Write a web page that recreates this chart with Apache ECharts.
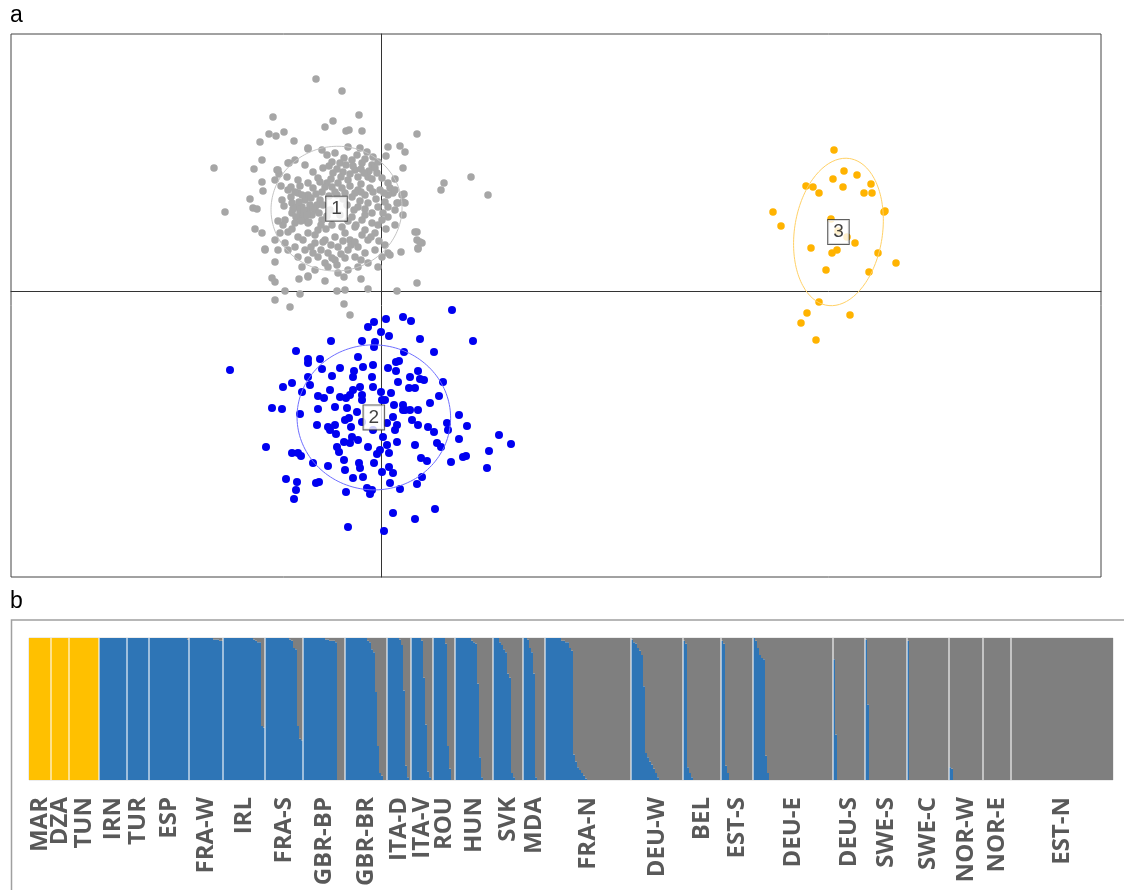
<!DOCTYPE html>
<html>
<head>
<meta charset="utf-8">
<script src="https://cdn.jsdelivr.net/npm/echarts@6/dist/echarts.min.js"></script>
<style>
  html, body { margin: 0; padding: 0; background: #ffffff; }
  #chart { width: 1124px; height: 890px; }
</style>
</head>
<body>
<div id="chart"></div>
<script>
// ---------- Panel a: discriminant scores (LD1, LD2) per cluster ----------
const cluster1 = [
  [-6.5,21.2],[-3.9,20.0],[-10.8,17.4],[-2.2,17.6],[-4.8,17.0],[-5.6,16.4],[-3.5,16.0],[-3.2,16.1],[-1.9,16.0],[-11.2,15.7],
  [-10.5,15.5],[-9.7,15.9],[-8.7,15.0],[-12.1,14.9],[3.6,15.7],[0.7,14.4],[1.9,14.5],[2.4,13.9],[0.5,13.5],[-11.9,13.1],
  [-16.7,12.3],[-12.7,12.2],[-10.4,12.1],[-10.2,11.7],[-9.2,12.8],[-7.3,14.2],[2.2,12.3],[9.0,11.4],[6.3,10.8],[6.0,10.1],
  [10.7,9.6],[-15.6,7.9],[-12.6,6.2],[-11.6,4.2],[-10.6,2.9],[-10.9,1.3],[-10.6,0.9],[-9.6,0.0],[-8.2,1.2],[-7.3,1.5],
  [-8.1,-0.3],[-10.6,-0.9],[-9.1,-1.6],[-5.6,1.0],[-4.4,0.0],[-3.6,0.1],[-3.7,-1.3],[-3.1,-2.4],[-3.7,1.4],[-2.0,1.2],
  [-1.3,0.2],[1.6,0.0],[3.6,0.8],[3.6,5.9],[3.6,5.1],[4.1,4.8],[3.7,4.2],[2.0,3.9],[2.3,9.7],[2.4,8.8],
  [1.6,8.8],[1.4,11.2],[0.9,10.3],[1.2,9.8],
  [-7.3,14.3],[-5.9,14.1],[-5.4,13.6],[-4.6,13.8],[-3.3,14.4],[-2.1,14.3],[-1.4,13.9],[-0.8,13.4],[-4.9,12.9],[-4.1,12.8],
  [-2.9,13.1],[-1.9,12.8],[-0.9,12.6],[-0.3,12.9],[-2.6,12.1],[-3.8,11.9],[-4.8,11.8],[-5.8,12.3],[-6.8,11.9],[-7.6,12.6],
  [-8.6,13.1],[-9.3,12.8],[-10.3,12.1],[-10.6,11.1],[-9.4,11.4],[-8.3,11.1],[-7.3,10.8],[-6.3,11.3],[-5.4,10.8],[-4.3,10.8],
  [-3.3,11.1],[-2.3,11.4],[-1.3,11.4],[-0.4,11.8],[0.1,11.3],[0.7,10.8],[1.4,10.1],[2.1,9.6],[0.7,9.6],[-0.1,10.1],
  [-1.1,10.3],[-2.3,10.1],[-2.9,9.4],[-3.6,9.8],[-4.6,9.9],[-5.9,9.9],[-7.3,9.6],[-8.3,9.8],[-9.3,10.1],[-9.9,9.1],
  [-8.9,8.8],[-7.9,8.4],[-7.3,8.1],[-7.9,7.4],[-8.9,7.8],[-9.6,7.1],[-8.6,6.8],[-7.3,6.8],[-5.9,7.1],[-6.3,6.1],
  [-7.3,5.8],[-8.3,5.4],[-9.3,5.9],[-10.1,5.8],[-10.6,5.1],[-9.6,4.8],[-8.6,4.4],[-7.6,4.1],[-6.6,4.8],[-5.6,5.1],
  [-4.6,5.4],[-3.6,5.8],[-3.1,5.1],[-2.6,6.4],[-2.9,7.4],[-1.9,7.1],[-0.9,6.8],[0.1,7.1],[0.7,7.4],[1.4,8.1],
  [0.7,8.4],[-0.3,8.4],[-1.3,8.8],[-2.3,8.4],[-1.6,6.1],[-0.6,5.8],[-1.3,5.1],[-2.3,4.4],[-3.3,4.1],[-4.3,4.4],
  [-5.3,3.8],[-6.3,3.4],[-7.3,3.1],[-8.3,3.4],[-5.6,2.8],[-4.6,3.1],[-3.6,3.3],[-2.6,3.4],[-1.6,3.8],[-0.6,4.1],
  [0.1,3.4],[0.7,3.8],[-0.3,2.4],[-1.3,2.8],[-2.3,2.4],[-3.3,2.1],[-4.3,1.8],[-5.3,2.4],[-6.6,2.1],[-7.3,1.4],
  [-7.9,2.4],[-9.3,4.1],[-10.3,4.1],[0.9,3.6],[1.4,6.6],[1.7,8.8],[2.2,8.9],[2.2,7.6],[3.4,5.9],[3.7,4.3],
  [3.9,4.9],[-11.6,4.1],[-11.9,5.8],[-13.1,9.2],[-12.8,8.3],[-12.4,8.2],[-11.9,10.9],[-11.8,10.0],[-7.1,8.6],[-6.6,8.1],
  [-8.1,7.9],[-7.6,9.1],[-6.1,9.1],[-6.9,7.6],[-8.4,8.4],[-6.4,8.6],[-7.6,7.1],[-5.1,8.1],[-4.1,7.6],[-3.4,8.6],
  [-8.8,8.2],[-8.2,8.9],[-7.7,8.0],[-7.0,9.3],[-6.8,8.3],[-7.4,7.6],[-8.5,7.4],[-6.2,7.8],[-9.0,9.4],[-7.9,9.6],
  [-6.5,9.7],[-8.0,7.0],[-7.2,6.9],[-5.2,12.5],[-4.4,12.2],[-3.5,12.6],[-2.8,12.5],[-2.0,12.2],[-1.2,12.0],[-0.6,12.3],
  [-3.1,11.7],[-4.0,11.4],[-5.0,11.2],[-1.7,11.8],[-0.9,11.2],[-3.7,13.3],[-2.4,13.6],[-1.6,13.2],[-0.8,9.9],[0.3,9.8],
  [-0.5,9.2],[0.4,8.9],[-1.6,9.6],[-0.9,7.8],[0.2,7.8],[-0.3,6.6],[0.5,6.2],[-1.0,5.4],[-0.2,5.0],[0.4,4.6],
  [-1.9,5.6],[-2.0,9.9],[-1.6,8.2],[-7.0,4.4],[-6.0,4.1],[-5.0,4.6],[-4.0,3.7],[-3.0,4.6],[-2.0,3.1],[-4.9,3.3],
  [-6.8,3.8],[-5.8,4.9],[-3.8,5.0],[-2.6,4.9],[-4.4,2.6],[-5.6,10.4],[-4.9,10.4],[-3.9,10.3],[-3.1,10.5],[-2.6,9.8],
  [-2.1,9.0],[-2.7,8.1],[-3.3,7.0],[-3.9,6.4],[-4.9,6.6],[-5.5,6.2],[-6.6,5.6],[-7.8,5.1],[-8.9,6.2],[-9.8,6.6],
  [-9.0,10.4],[-8.1,10.5],[-6.8,10.3],[-6.1,10.9],[-5.8,8.6],[-5.4,7.5],[-6.0,6.6],[-3.8,9.2],[-2.5,6.6],[-1.6,7.6],
  [-8.6,9.9],[-9.7,8.5],[-10.3,7.0],[-10.0,10.5],[-4.4,9.6],[-5.2,9.5],[-2.0,10.7]
];

const cluster2 = [
  [7.1,-1.9],[9.2,-5.0],[2.2,-2.6],[3.0,-3.0],[0.5,-2.8],[-0.7,-3.1],[-1.3,-3.6],[0.0,-4.1],[0.8,-4.5],[3.9,-4.8],
  [5.3,-6.1],[-5.0,-5.0],[-1.9,-5.0],[-0.6,-5.1],[-0.7,-5.6],[-8.5,-6.0],[2.3,-6.1],[-7.3,-6.8],[-7.3,-7.2],[-6.1,-6.8],
  [-15.1,-7.9],[-2.3,-6.6],[-0.8,-7.4],[-4.1,-7.7],[-2.7,-8.0],[-1.8,-7.6],[0.7,-7.7],[1.5,-7.1],[1.8,-7.0],[3.7,-8.0],
  [2.9,-8.6],[3.9,-8.8],[4.3,-8.9],[6.2,-9.1],[1.5,-8.0],[-9.8,-9.6],[-8.9,-9.2],[-7.3,-8.6],[-7.1,-9.4],[-5.9,-7.8],
  [-4.9,-8.5],[-2.8,-8.6],[-2.1,-9.6],[-0.9,-8.6],[-0.8,-9.6],[1.7,-9.1],[2.8,-9.7],[3.4,-9.7],[5.8,-10.5],[4.9,-11.2],
  [-7.9,-10.1],[-6.3,-10.5],[-5.7,-10.7],[-5.1,-9.9],[-4.1,-10.6],[-3.5,-10.7],[-2.8,-9.9],[-1.9,-10.4],[0.0,-10.1],[1.0,-10.2],
  [0.1,-10.9],[-10.9,-11.7],[-9.9,-11.8],[-8.1,-12.3],[-6.3,-11.8],[-4.6,-11.6],[-3.4,-11.7],[-2.4,-12.1],[1.3,-11.4],[2.2,-11.4],
  [1.2,-12.6],[2.2,-11.9],[2.9,-11.9],[3.7,-11.9],[3.1,-12.9],[3.7,-13.4],[4.7,-13.6],[5.3,-14.1],[6.6,-13.2],[6.7,-13.9],
  [7.8,-12.4],[8.6,-13.5],[7.8,-14.8],[-6.4,-13.4],[-5.3,-13.6],[-4.6,-13.4],[-4.5,-14.3],[-3.2,-12.7],[-3.0,-13.6],[-2.9,-14.6],
  [-3.1,-15.2],[-1.9,-13.1],[-0.8,-13.9],[0.6,-13.2],[1.6,-13.4],[0.2,-14.6],[0.6,-15.4],[1.6,-15.1],[-4.4,-15.6],[-4.2,-16.1],
  [-3.7,-15.1],[-1.3,-15.6],[-0.4,-16.3],[0.8,-16.2],[5.6,-15.2],[6.0,-15.6],[-11.5,-15.6],[-8.9,-16.2],[-8.3,-16.2],[-8.0,-16.5],
  [-6.8,-17.2],[-5.3,-17.5],[-3.7,-16.9],[-3.6,-17.9],[-2.2,-17.2],[-2.1,-17.7],[-0.7,-17.2],[0.1,-18.1],[0.8,-17.6],[1.2,-18.2],
  [4.0,-16.7],[4.6,-17.0],[7.0,-17.1],[8.2,-16.6],[8.5,-16.5],[10.8,-16.0],[11.8,-14.4],[13.0,-15.3],[10.6,-17.7],[-9.5,-18.8],
  [-8.4,-19.1],[-8.5,-19.9],[-8.7,-20.8],[-6.5,-19.2],[-6.2,-19.1],[-2.8,-18.7],[-1.8,-18.6],[-1.4,-19.7],[-0.9,-19.9],[-1.1,-20.3],
  [-3.5,-20.1],[0.9,-19.2],[1.9,-19.8],[3.6,-19.3],[4.1,-18.6],[1.2,-22.2],[3.4,-22.8],[5.4,-21.8],[-3.3,-23.6],[0.3,-24.0],
  [-3.1,-10.4],[-1.9,-10.9],[-3.6,-12.9],[-2.3,-14.9],[0.4,-10.9],[1.4,-13.9],[2.4,-11.9],[-0.1,-15.9],[-5.1,-13.9],[3.4,-15.4]
];

const cluster3 = [
  [45.3,14.1],[46.3,12.0],[47.6,11.6],[45.2,11.2],[42.5,10.5],[43.2,10.4],[43.8,9.8],[46.2,10.4],[48.3,9.8],[49.0,10.7],
  [49.1,9.8],[50.3,7.9],[50.4,8.0],[39.2,7.9],[40.0,6.5],[45.0,7.2],[46.6,5.4],[47.4,4.8],[43.0,4.3],[45.1,3.8],
  [45.6,4.1],[49.7,3.8],[51.5,2.8],[44.5,2.1],[48.8,1.9],[43.8,-1.1],[42.6,-2.2],[42.0,-3.2],[46.9,-2.4],[43.5,-4.9],
  [45.7,6.0]
];

// ---------- Panel b: ancestry proportions per individual ----------
const popNames = ['MAR','DZA','TUN','IRN','TUR','ESP','FRA-W','IRL','FRA-S','GBR-BP','GBR-BR','ITA-D','ITA-V','ROU',
  'HUN','SVK','MDA','FRA-N','DEU-W','BEL','EST-S','DEU-E','DEU-S','SWE-S','SWE-C','NOR-W','NOR-E','EST-N'];

// membership in the North African (yellow) cluster: MAR, DZA, TUN
const yellowQ = [
  [1,1,1,1,1,1,1,1,1,1,1],
  [1,1,1,1,1,1,1,1,1],
  [1,1,1,1,1,1,1,1,1,1,1,1,1,1,1]
];

// membership in the blue cluster, from IRN to EST-N (remainder is grey)
const blueQ = [
  [1,1,1,1,1,1,1,1,1,1,1,1,1,1],
  [1,1,1,1,1,1,1,1,1,1,1],
  [1,1,1,1,1,1,1,1,1,1,1,1,1,1,1,1,1,1,1,0.99],
  [1,1,1,1,1,1,1,1,1,1,1,1,0.99,0.99,0.99,0.98,0.98],
  [1,1,1,1,1,1,1,1,1,1,1,1,1,1,1,0.99,0.98,0.97,0.97,0.38,0.37],
  [1,1,1,1,1,1,1,1,1,1,1,1,0.99,0.98,0.93,0.92,0.38,0.29,0.28],
  [1,1,1,1,1,1,1,1,1,1,1,0.99,0.99,0.98,0.98,0.98,0.97,0,0,0,0],
  [1,1,1,1,1,1,1,1,1,1,1,0.98,0.97,0.92,0.90,0.62,0.24,0.05,0.03,0,0],
  [1,1,1,1,1,1,0.99,0.95,0.63,0.10,0.02,0],
  [1,1,1,1,1,0.98,0.72,0.39,0.06,0.02,0],
  [1,1,1,1,1,1,0.96,0.24,0.08,0,0],
  [1,1,1,1,1,1,1,1,0.98,0.97,0.96,0.68,0.16,0.02,0,0,0,0,0],
  [1,1,1,0.97,0.95,0.92,0.90,0.75,0.72,0.05,0.02,0,0,0,0],
  [1,1,0.99,0.93,0.90,0.75,0.02,0,0,0,0],
  [1,1,1,1,1,1,1,1,0.98,0.98,0.97,0.97,0.93,0.91,0.18,0.13,0.09,0.07,0.05,0.03,0.01,
   0,0,0,0,0,0,0,0,0,0,0,0,0,0,0,0,0,0,0,0,0,0],
  [0.99,0.97,0.96,0.93,0.91,0.88,0.66,0.19,0.16,0.13,0.11,0.08,0.05,0.02,0,0,0,0,0,0,0,0,0,0,0,0],
  [0.98,0.96,0.09,0.05,0.02,0,0,0,0,0,0,0,0,0,0,0,0,0,0],
  [0.98,0.96,0.10,0.05,0,0,0,0,0,0,0,0,0,0,0,0],
  [1,0.98,0.93,0.88,0.86,0.85,0.17,0.05,0,0,0,0,0,0,0,0,0,0,0,0,0,0,0,0,0,0,0,0,0,0,0,0,0,0,0,0,0,0,0,0],
  [0.85,0.32,0,0,0,0,0,0,0,0,0,0,0,0,0,0],
  [0.99,0.53,0,0,0,0,0,0,0,0,0,0,0,0,0,0,0,0,0,0,0],
  [0.98,0,0,0,0,0,0,0,0,0,0,0,0,0,0,0,0,0,0,0,0],
  [0.09,0.08,0,0,0,0,0,0,0,0,0,0,0,0,0,0,0],
  [0,0,0,0,0,0,0,0,0,0,0,0,0,0],
  [0,0,0,0,0,0,0,0,0,0,0,0,0,0,0,0,0,0,0,0,0,0,0,0,0,0,0,0,0,0,0,0,0,0,0,0,0,0,0,0,0,0,0,0,0,0,0,0,0,0,0]
];

// ---------- build per-individual rows ----------
const indivIds = [], yellowVals = [], blueVals = [], greyVals = [];
const groupStarts = [], groupMids = [];
popNames.forEach((name, p) => {
  const yq = p < yellowQ.length ? yellowQ[p] : null;
  const bq = p < yellowQ.length ? null : blueQ[p - yellowQ.length];
  const n = yq ? yq.length : bq.length;
  const start = indivIds.length;
  groupStarts.push(start);
  groupMids.push([start + n / 2, 0]);
  for (let i = 0; i < n; i++) {
    const y = yq ? yq[i] : 0;
    const b = bq ? bq[i] : 0;
    const g = Math.max(0, 1 - y - b);
    indivIds.push(name + '#' + (i + 1));
    yellowVals.push(y > 0.001 ? y : '-');
    blueVals.push(b > 0.001 ? b : '-');
    greyVals.push(g > 0.001 ? g : '-');
  }
});
const nIndiv = indivIds.length;
const boundaries = groupStarts.slice(1).map(s => [s, 0]);

// inertia ellipse (1.5 standard deviations) and centroid of a cluster
function classEllipse(points, k) {
  const n = points.length;
  let mx = 0, my = 0;
  points.forEach(p => { mx += p[0]; my += p[1]; });
  mx /= n; my /= n;
  let sxx = 0, syy = 0, sxy = 0;
  points.forEach(p => {
    const dx = p[0] - mx, dy = p[1] - my;
    sxx += dx * dx; syy += dy * dy; sxy += dx * dy;
  });
  sxx /= n; syy /= n; sxy /= n;
  const tr = sxx + syy, det = sxx * syy - sxy * sxy;
  const disc = Math.sqrt(Math.max(0, tr * tr / 4 - det));
  const l1 = tr / 2 + disc, l2 = Math.max(0, tr / 2 - disc);
  const th = 0.5 * Math.atan2(2 * sxy, sxx - syy);
  const a = k * Math.sqrt(l1), b = k * Math.sqrt(l2);
  const path = [];
  for (let i = 0; i <= 160; i++) {
    const t = 2 * Math.PI * i / 160;
    const ex = a * Math.cos(t), ey = b * Math.sin(t);
    path.push([mx + ex * Math.cos(th) - ey * Math.sin(th), my + ex * Math.sin(th) + ey * Math.cos(th)]);
  }
  return { center: [mx, my], path: path };
}

const clusters = [
  { name: '1', pts: cluster1, color: '#a6a6a6', ring: '#c4c4c4', size: 7.5 },
  { name: '2', pts: cluster2, color: '#0000f0', ring: '#6e6eff', size: 8 },
  { name: '3', pts: cluster3, color: '#ffb300', ring: '#ffd166', size: 7.5 }
];
clusters.forEach(c => { c.ell = classEllipse(c.pts, 1.5); });

const chart = echarts.init(document.getElementById('chart'), null, { renderer: 'canvas' });

const series = [];
clusters.forEach(c => {
  series.push({
    type: 'scatter', xAxisIndex: 0, yAxisIndex: 0, data: c.pts,
    symbol: 'circle', symbolSize: c.size, itemStyle: { color: c.color, opacity: 1 },
    silent: true, z: 2
  });
});
clusters.forEach(c => {
  series.push({
    type: 'line', xAxisIndex: 0, yAxisIndex: 0, data: c.ell.path,
    showSymbol: false, symbol: 'none', smooth: false,
    lineStyle: { color: c.ring, width: 1 }, silent: true, z: 3
  });
});
series.push({
  type: 'scatter', xAxisIndex: 0, yAxisIndex: 0,
  data: clusters.map(c => ({ value: c.ell.center, name: c.name })),
  symbolSize: 1, itemStyle: { color: 'rgba(0,0,0,0)' }, silent: true, z: 10,
  label: {
    show: true, position: 'inside', formatter: '{b}',
    fontFamily: 'Liberation Sans', fontSize: 19, color: '#111',
    backgroundColor: '#ffffff', borderColor: '#333333', borderWidth: 1,
    padding: [3, 5, 2, 5]
  }
});

const barBase = { type: 'bar', xAxisIndex: 1, yAxisIndex: 1, stack: 'q', barCategoryGap: '0%', silent: true };
series.push(Object.assign({}, barBase, { data: yellowVals, itemStyle: { color: '#ffc000' } }));
series.push(Object.assign({}, barBase, { data: blueVals, itemStyle: { color: '#2e75b6' } }));
series.push(Object.assign({}, barBase, { data: greyVals, itemStyle: { color: '#7f7f7f' } }));

// thin light separators between populations
series.push({
  type: 'custom', xAxisIndex: 2, yAxisIndex: 1, data: boundaries, silent: true, z: 6,
  renderItem: function (params, api) {
    const p0 = api.coord([api.value(0), 0]);
    const p1 = api.coord([api.value(0), 1]);
    return {
      type: 'line',
      shape: { x1: p0[0], y1: p0[1], x2: p1[0], y2: p1[1] },
      style: { stroke: 'rgba(255,255,255,0.72)', lineWidth: 1.5 }
    };
  }
});

// population names, vertical, centred under each block
series.push({
  type: 'custom', xAxisIndex: 2, yAxisIndex: 1, data: groupMids, silent: true, z: 6, clip: false,
  renderItem: function (params, api) {
    const p = api.coord([api.value(0), 0]);
    return {
      type: 'text',
      x: p[0], y: p[1] + 17,
      rotation: Math.PI / 2,
      style: {
        text: popNames[params.dataIndex],
        fill: '#595959',
        fontFamily: 'Open Sans', fontWeight: 'bold', fontSize: 24,
        align: 'right', verticalAlign: 'middle'
      }
    };
  }
});

const option = {
  animation: false,
  backgroundColor: '#ffffff',
  textStyle: { fontFamily: 'Liberation Sans' },
  grid: [
    { left: 11, top: 34, width: 1090, height: 543, show: true, borderColor: '#444444', borderWidth: 1, containLabel: false },
    { left: 29, top: 638, width: 1084, height: 142, show: true, borderColor: '#d9d9d9', borderWidth: 1, containLabel: false }
  ],
  xAxis: [
    { gridIndex: 0, type: 'value', min: -37, max: 72,
      axisLine: { show: true, onZero: true, lineStyle: { color: '#333333', width: 1 } },
      axisTick: { show: false }, axisLabel: { show: false }, splitLine: { show: false } },
    { gridIndex: 1, type: 'category', data: indivIds, boundaryGap: true,
      axisLine: { show: false }, axisTick: { show: false }, splitLine: { show: false },
      axisLabel: { show: false } },
    { gridIndex: 1, type: 'value', min: 0, max: nIndiv, show: false }
  ],
  yAxis: [
    { gridIndex: 0, type: 'value', min: -28.6, max: 25.7,
      axisLine: { show: true, onZero: true, lineStyle: { color: '#333333', width: 1 } },
      axisTick: { show: false }, axisLabel: { show: false }, splitLine: { show: false } },
    { gridIndex: 1, type: 'value', min: 0, max: 1, show: false }
  ],
  graphic: [
    { type: 'text', left: 10, top: 4, style: { text: 'a', fontFamily: 'Liberation Sans', fontSize: 23, fill: '#000' } },
    { type: 'text', left: 10, top: 590, style: { text: 'b', fontFamily: 'Liberation Sans', fontSize: 23, fill: '#000' } },
    { type: 'polyline', shape: { points: [[11.5, 900], [11.5, 620], [1130, 620]] },
      style: { stroke: '#a0a0a0', lineWidth: 1.5, fill: null }, silent: true }
  ],
  series: series
};

chart.setOption(option);
</script>
</body>
</html>
